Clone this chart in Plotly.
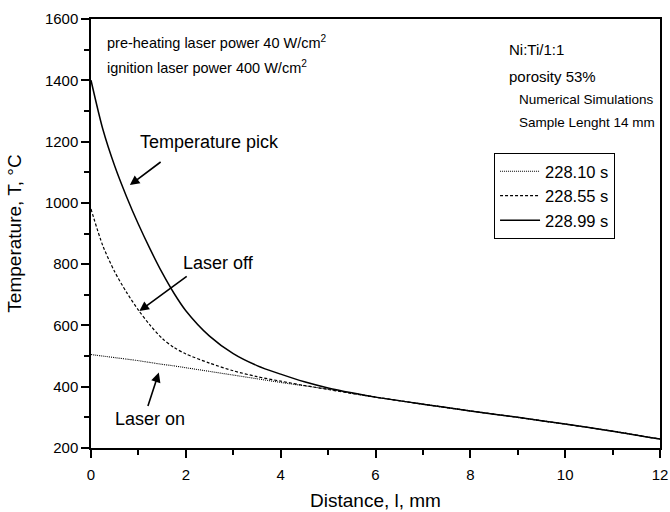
import plotly.graph_objects as go

# Distance along sample, mm
distance = [0, 0.25, 0.5, 0.75, 1.0, 1.25, 1.5, 1.75, 2.0, 2.5, 3.0, 3.5, 4.0,
            4.5, 5.0, 5.5, 6.0, 7.0, 8.0, 9.0, 10.0, 11.0, 12.0]

# Temperature profiles, deg C
t_228_10 = [505, 500, 495, 490, 485, 479, 473, 468, 462, 450, 438, 426, 414,
            403, 392, 379, 366, 343, 321, 300, 278, 255, 229]
t_228_55 = [980, 860, 775, 708, 650, 600, 558, 528, 507, 477, 452, 433, 418,
            404, 391, 378, 366, 343, 321, 300, 278, 255, 229]
t_228_99 = [1400, 1240, 1120, 1020, 930, 848, 772, 705, 648, 565, 508, 469, 441,
            416, 396, 380, 366, 343, 321, 300, 278, 255, 229]

series_names = ["228.10 s", "228.55 s", "228.99 s"]

FONT = "Arial, Liberation Sans, Helvetica, sans-serif"

fig = go.Figure()
fig.add_trace(go.Scatter(x=distance, y=t_228_10, mode="lines", name=series_names[0],
                         line=dict(color="black", width=1.1, dash="1px,1px",
                                   shape="spline", smoothing=0.8)))
fig.add_trace(go.Scatter(x=distance, y=t_228_55, mode="lines", name=series_names[1],
                         line=dict(color="black", width=1.2, dash="3px,2px",
                                   shape="spline", smoothing=0.8)))
fig.add_trace(go.Scatter(x=distance, y=t_228_99, mode="lines", name=series_names[2],
                         line=dict(color="black", width=1.5,
                                   shape="spline", smoothing=0.8)))

axis_common = dict(
    showgrid=False, zeroline=False, showline=True, linecolor="black", linewidth=1.5,
    mirror=True, ticks="outside", ticklen=8, tickwidth=1.5, tickcolor="black",
    tickfont=dict(family=FONT, size=15, color="black"), automargin=False,
)

fig.update_xaxes(range=[0, 12], dtick=2, tick0=0, ticklabelstandoff=4,
                 minor=dict(dtick=1, ticks="outside", ticklen=5, tickwidth=1.5, tickcolor="black"),
                 title=dict(text="Distance, l, mm", font=dict(family=FONT, size=19, color="black"),
                            standoff=12),
                 **axis_common)
fig.update_yaxes(range=[200, 1600], dtick=200, tick0=200,
                 minor=dict(dtick=100, ticks="outside", ticklen=5, tickwidth=1.5, tickcolor="black"),
                 title=dict(text="Temperature, T, °C", font=dict(family=FONT, size=19, color="black"),
                            standoff=18),
                 **axis_common)

anns = []
def txt(x, y, s, size, xanchor="center"):
    anns.append(dict(x=x, y=y, xref="x", yref="y", text=s, showarrow=False,
                     xanchor=xanchor, yanchor="middle",
                     font=dict(family=FONT, size=size, color="black")))

txt(0.30, 1525, "pre-heating laser power 40 W/cm<sup>2</sup>", 14.5, "left")
txt(0.30, 1443, "ignition laser power 400 W/cm<sup>2</sup>", 14.5, "left")
txt(8.77, 1499, "Ni:Ti/1:1", 15, "left")
txt(8.77, 1411, "porosity 53%", 15, "left")
txt(8.98, 1336, "Numerical Simulations", 13.5, "left")
txt(8.98, 1261, "Sample Lenght 14 mm", 13.5, "left")
txt(2.50, 1199, "Temperature pick", 18)
txt(2.69, 805, "Laser off", 18)
txt(1.245, 295, "Laser on", 18)

def arrow(x_head, y_head, x_tail, y_tail):
    anns.append(dict(x=x_head, y=y_head, ax=x_tail, ay=y_tail, xref="x", yref="y",
                     axref="x", ayref="y", text="", showarrow=True, arrowhead=2,
                     arrowsize=1.2, arrowwidth=1.6, arrowcolor="black"))

arrow(0.82, 1058, 1.50, 1137)
arrow(1.02, 647, 2.05, 764)
arrow(1.43, 446, 1.19, 332)

fig.update_layout(
    width=670, height=512,
    margin=dict(l=91, r=10, t=19, b=64, autoexpand=False),
    paper_bgcolor="white", plot_bgcolor="white",
    showlegend=True,
    legend=dict(x=0.708, y=0.688, xanchor="left", yanchor="top",
                bordercolor="black", borderwidth=1.2, bgcolor="white",
                font=dict(family=FONT, size=16.5, color="black"),
                itemwidth=40, tracegroupgap=0),
    annotations=anns,
)

fig.write_html("out.html")
